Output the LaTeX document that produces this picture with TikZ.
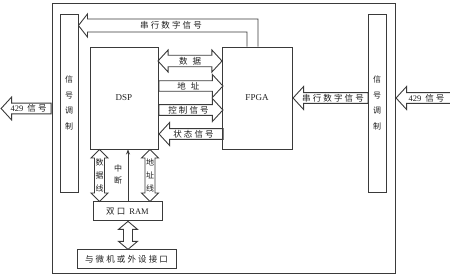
\documentclass[tikz,border=0pt]{standalone}
\usepackage{fontspec}
\setmainfont{Liberation Serif}
\newfontfamily\cjk[LetterSpace=25]{Noto Sans CJK SC}
\newfontfamily\cjkplain{Noto Sans CJK SC}
\usetikzlibrary{shapes.arrows,positioning,calc,arrows.meta}
\definecolor{linecol}{RGB}{58,58,58}
\definecolor{txtcol}{RGB}{30,30,30}

\begin{document}
\begin{tikzpicture}[x=1pt, y=-1pt, line width=0.9pt, draw=linecol, text=txtcol,
        box/.style={rectangle, draw=linecol, inner sep=0pt},
        zh/.style={font=\cjk\fontsize{8.5}{10}\selectfont},
        zhcol/.style={font=\cjkplain\fontsize{8}{#1}\selectfont, align=center, inner sep=0pt},
        fat/.style={single arrow, draw=linecol, inner sep=0pt, zh, minimum width=23pt,
            single arrow head extend=5pt, single arrow tip angle=95},
        dfat/.style={double arrow, draw=linecol, inner sep=0pt, zh, minimum width=22pt,
            double arrow head extend=4pt, double arrow tip angle=95}]

    \useasboundingbox (0,0) rectangle (450,274);

    % frame and the two modulation bars
    \node[box, minimum width=343pt, minimum height=270pt] (frame) at (223.5,138) {};
    \node[box, minimum width=18pt, minimum height=178pt, zhcol=15.5] (lbar) at (69,103) {信\\号\\调\\制};
    \node[box, minimum width=18pt, minimum height=178pt, zhcol=15.5] (rbar) at (377,103) {信\\号\\调\\制};

    % processors
    \node[box, minimum width=68pt, minimum height=102pt, font=\fontsize{9}{10}\selectfont] (dsp) at (124,98) {DSP};
    \node[box, minimum width=70pt, minimum height=102pt, font=\fontsize{9}{10}\selectfont] (fpga) at (257,98) {FPGA};

    \node[box, minimum width=69pt, minimum height=19pt, zh, below=52pt of dsp.south, xshift=3.5pt] (ram) {双口 {\rmfamily RAM}};
    \node[box, minimum width=99pt, minimum height=19pt, zh, below=28pt of ram, xshift=-1pt] (port) {与微机或外设接口};

    % buses between DSP and FPGA
    \node[dfat, minimum height=64pt] (data) at ($(dsp.east |- 0,61)!.5!(fpga.west |- 0,61)$) {数\hspace{5pt}据};
    \node[fat, minimum height=64pt, anchor=tail] (addr) at (dsp.east |- 0,86) {地\hspace{5pt}址};
    \node[fat, minimum height=64pt, anchor=tail] (ctrl) at (dsp.east |- 0,110) {控制信号};
    \node[fat, minimum height=64pt, anchor=tip, shape border rotate=180] (stat) at (dsp.east |- 0,134) {状态信号};

    % serial lines and 429 signals
    \node[fat, minimum height=75pt, anchor=tip, shape border rotate=180] (serial) at (fpga.east |- 0,98) {串行数字信号};
    \node[fat, minimum height=50pt, anchor=tail, shape border rotate=180] (outl) at (frame.west |- 0,108.5) {{\rmfamily 429} 信号};
    \node[fat, minimum height=56pt, anchor=tip, shape border rotate=180] (inr) at (frame.east |- 0,98) {{\rmfamily 429} 信号};

    \coordinate (toptip) at (lbar.east |- 0,25.5);
    \draw (toptip) -- ++(9,-11.5) -- ++(0,5) -| (fpga.north -| 258,0);
    \draw (toptip) -- ++(9,11.5) -- ++(0,-5) -| (fpga.north -| 247,0);
    \node[zh] (sertop) at (171,25.5) {串行数字信号};

    % DSP <-> dual port RAM
    \foreach \x/\nm in {99.5/dline,150/aline} {
        \coordinate (top-\nm) at (dsp.south -| \x,0);
        \coordinate (bot-\nm) at (ram.north -| \x,0);
        \draw (top-\nm) -- ++(8.5,8.5) -- ++(-3.5,0) -- ($(bot-\nm)+(5,-8.5)$) -- ++(3.5,0)
            -- (bot-\nm) -- ++(-8.5,-8.5) -- ++(3.5,0) -- ($(top-\nm)+(-5,8.5)$) -- ++(-3.5,0) -- cycle;
    }
    \node[zhcol=13] (dlinetxt) at ($(top-dline)!.5!(bot-dline)$) {数\\据\\线};
    \node[zhcol=13] (alinetxt) at ($(top-aline)!.5!(bot-aline)$) {地\\址\\线};
    \draw[-{Stealth[length=5pt,width=4pt]}] (ram.north -| 128,0) -- (dsp.south -| 128,0);
    \node[zhcol=12] (irqtxt) at (118,174) {中\\断};

    % RAM <-> external port
    \draw (ram.south -| 128,0) -- ++(9.5,8) -- ++(-5,0) -- ($(port.north -| 128,0)+(4.5,-8)$) -- ++(5,0)
        -- (port.north -| 128,0) -- ++(-9.5,-8) -- ++(5,0) -- ($(ram.south -| 128,0)+(-4.5,8)$) -- ++(-5,0) -- cycle;
\end{tikzpicture}
\end{document}
